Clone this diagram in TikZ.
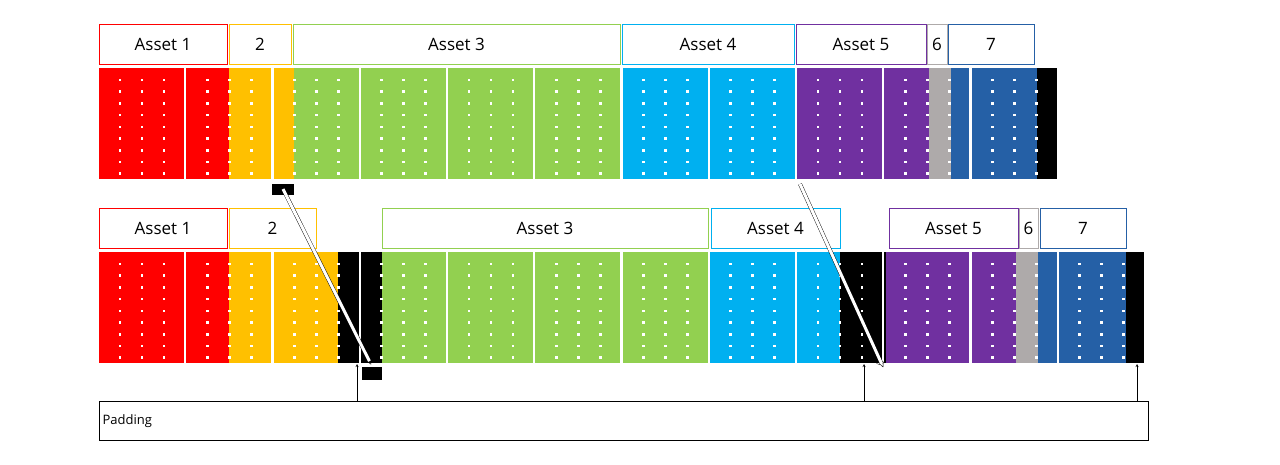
\documentclass[tikz,border=0pt]{standalone}
\usepackage{fontspec}
\setmainfont{Open Sans}
\usetikzlibrary{positioning,arrows,calc}
\definecolor{cred}{HTML}{FF0000}
\definecolor{cyel}{HTML}{FFC000}
\definecolor{cgrn}{HTML}{92D050}
\definecolor{cblu}{HTML}{00B0F0}
\definecolor{cpur}{HTML}{7030A0}
\definecolor{cgry}{HTML}{AEAAAA}
\definecolor{cdbl}{HTML}{2560A6}
% header box: name, x1, x2, ymid, colour, text
\newcommand{\hdrbox}[6]{\node[hdr, draw=#5, minimum width={(#3-#2)*1pt}] (#1) at ({(#2+#3)/2},#4) {#6};}
% coloured run: x1, x2, ytop, colour
\newcommand{\run}[4]{\fill[#4] (#1,#3) rectangle (#2,#3+111);}
% block gaps and dots: ytop, number of blocks
\newcommand{\blocks}[2]{%
  \foreach \k in {1,...,#2}{
    \pgfmathsetmacro{\bx}{99+(\k-1)*87.25}
    \fill[white] (\bx+85,#1-1) rectangle (\bx+87.25,#1+112);
    \foreach \r in {0,...,8}
      \foreach \c in {21,43,65}
        \fill[white] (\bx+\c-1.3,#1+12+\r*11.7-1.3) rectangle ++(2.6,2.6);
  }}
\begin{document}
\begin{tikzpicture}[x=1pt,y=-1pt,
  hdr/.style={shape=rectangle, minimum height=40pt, inner sep=0pt, font=\fontsize{17}{20}\selectfont},
  padmark/.style={fill=black, inner sep=0pt},
  move/.style={double=white, double distance=3pt, thin, -implies, shorten >=2pt},
  pad/.style={shape=rectangle, draw, minimum width=1049pt, minimum height=39pt, inner sep=0pt},
  ]
  \useasboundingbox (0,0) rectangle (1280,464);
  % top row
  \hdrbox{t1}{99}{227}{44}{cred}{Asset 1}
  \hdrbox{t2}{229}{291}{44}{cyel}{2}
  \hdrbox{t3}{293}{620}{44}{cgrn}{Asset 3}
  \hdrbox{t4}{622}{794}{44}{cblu}{Asset 4}
  \hdrbox{t5}{796}{926}{44}{cpur}{Asset 5}
  \hdrbox{t6}{927}{947}{44}{cgry}{6}
  \hdrbox{t7}{948}{1034}{44}{cdbl}{7}
  \run{99}{229}{68}{cred}
  \run{229}{294}{68}{cyel}
  \run{294}{621}{68}{cgrn}
  \run{621}{796}{68}{cblu}
  \run{796}{929}{68}{cpur}
  \run{929}{951}{68}{cgry}
  \run{951}{1037}{68}{cdbl}
  \run{1037}{1058}{68}{black}
  \blocks{68}{11}
  % bottom row
  \hdrbox{b1}{99}{227}{228}{cred}{Asset 1}
  \hdrbox{b2}{229}{316}{228}{cyel}{2}
  \hdrbox{b3}{382}{708}{228}{cgrn}{Asset 3}
  \hdrbox{b4}{711}{840}{228}{cblu}{Asset 4}
  \hdrbox{b5}{889}{1018}{228}{cpur}{Asset 5}
  \hdrbox{b6}{1019}{1038}{228}{cgry}{6}
  \hdrbox{b7}{1040}{1126}{228}{cdbl}{7}
  \run{99}{229}{252}{cred}
  \run{229}{338}{252}{cyel}
  \run{338}{382}{252}{black}
  \run{382}{709}{252}{cgrn}
  \run{709}{840}{252}{cblu}
  \run{840}{886}{252}{black}
  \run{886}{1016}{252}{cpur}
  \run{1016}{1038}{252}{cgry}
  \run{1038}{1126}{252}{cdbl}
  \run{1126}{1146}{252}{black}
  \blocks{252}{12}
  % moved padding
  \node[padmark, minimum width=22pt, minimum height=11pt] (m1) at (283,189) {};
  \node[padmark, minimum width=20pt, minimum height=13pt] (m2) at (372,373) {};
  \coordinate (s2) at (800,184);
  \coordinate (e2) at (884,369);
  \draw[move] (m1.center) -- (m2.north);
  \draw[move] (s2) -- (e2);
  % padding label
  \node[pad, anchor=north west, label={[anchor=west, font=\fontsize{13}{15}\selectfont]west:Padding}] (padding) at (99,401) {};
  \coordinate (p1) at (357,364);
  \coordinate (p2) at (864,364);
  \coordinate (p3) at (1137,364);
  \foreach \p in {p1,p2,p3}
    \draw[-stealth] (padding.north -| \p) -- (\p);
\end{tikzpicture}
\end{document}
